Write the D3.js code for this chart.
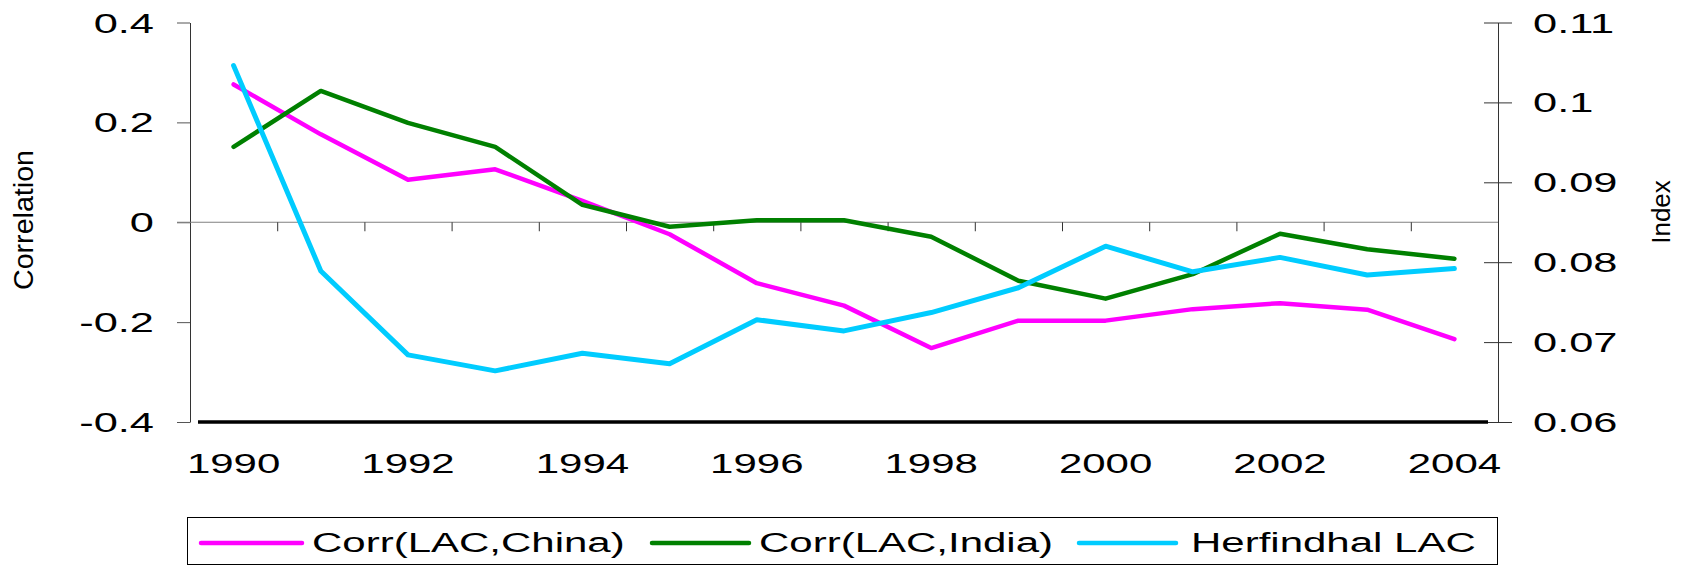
<!DOCTYPE html>
<html>
<head>
<meta charset="utf-8">
<script src="https://cdn.jsdelivr.net/npm/d3@7"></script>
<style>
  body { margin: 0; background: #fff; }
  text { font-family: "Liberation Sans", Arial, sans-serif; fill: #000; }
</style>
</head>
<body>
<div id="chart"></div>
<script>

// data
var years = [1990, 1991, 1992, 1993, 1994, 1995, 1996, 1997, 1998, 1999, 2000, 2001, 2002, 2003, 2004];
var corrChina = [0.276, 0.176, 0.085, 0.106, 0.043, -0.024, -0.122, -0.167, -0.252, -0.197, -0.197, -0.174, -0.162, -0.175, -0.234];
var corrIndia = [0.151, 0.263, 0.199, 0.151, 0.035, -0.009, 0.004, 0.004, -0.029, -0.117, -0.153, -0.104, -0.023, -0.054, -0.073];
var herfLAC = [0.1046, 0.0789, 0.0684, 0.0664, 0.0686, 0.0673, 0.0728, 0.0714, 0.0737, 0.0768, 0.0820, 0.0788, 0.0806, 0.0784, 0.0792];
var leftTicks = [-0.4, -0.2, 0, 0.2, 0.4];
var rightTicks = [0.06, 0.07, 0.08, 0.09, 0.1, 0.11];
var yearLabels = [1990, 1992, 1994, 1996, 1998, 2000, 2002, 2004];
var seriesNames = ["Corr(LAC,China)", "Corr(LAC,India)", "Herfindhal LAC"];
var seriesColors = ["#ff00ff", "#008000", "#00ccff"];

var width = 1681, height = 566;
var plot = {left: 190, right: 1498, top: 22.5, bottom: 422};
var stretch = 1.55; // text in the picture is stretched sideways

var svg = d3.select("#chart")
  .append("svg")
    .attr("width", width)
    .attr("height", height);

// scales
var x = d3.scaleBand()
  .domain(years)
  .range([plot.left, plot.right]);

var xEdge = d3.scaleLinear()
  .domain([1989.5, 2004.5])
  .range([plot.left, plot.right]);

var yLeft = d3.scaleLinear()
  .domain([-0.4, 0.4])
  .range([plot.bottom, plot.top]);

var yRight = d3.scaleLinear()
  .domain([0.06, 0.11])
  .range([plot.bottom, plot.top]);

function cx(d, i) { return x(years[i]) + x.bandwidth() / 2; }

function fmt(v) {
  return String(Math.round(v * 100) / 100);
}

// stretched label helper
function label(g, px, py, str, anchor, sx) {
  g.append("text")
    .attr("transform", "translate(" + px + "," + py + ") scale(" + sx + ",1)")
    .attr("text-anchor", anchor)
    .style("font-size", "28px")
    .text(str);
}

// left axis
var leftAxis = svg.append("g")
  .attr("transform", "translate(" + plot.left + ",0)")
  .call(d3.axisLeft(yLeft).tickValues(leftTicks).tickSize(13).tickSizeOuter(0).tickFormat(""));
leftAxis.select(".domain").attr("stroke", "#333");
leftAxis.selectAll(".tick line").attr("stroke", "#555");

leftTicks.forEach(function(v) {
  label(svg, 154, yLeft(v) + 10, fmt(v), "end", stretch);
});

// right axis, ticks cross the line
var rightAxis = svg.append("g")
  .attr("transform", "translate(" + plot.right + ",0)")
  .call(d3.axisRight(yRight).tickValues(rightTicks).tickSize(14).tickSizeOuter(0).tickFormat(""));
rightAxis.select(".domain").attr("stroke", "#333");
rightAxis.selectAll(".tick line").attr("x1", -14).attr("stroke", "#333");

rightTicks.forEach(function(v) {
  label(svg, 1533, yRight(v) + 10, fmt(v), "start", stretch);
});

// zero line with category ticks
svg.append("line")
  .attr("x1", plot.left - 13)
  .attr("x2", plot.right)
  .attr("y1", yLeft(0))
  .attr("y2", yLeft(0))
  .attr("stroke", "#808080")
  .attr("stroke-width", 1.2);

var edges = d3.range(1990.5, 2004, 1);
var xAxis = svg.append("g")
  .attr("transform", "translate(0," + yLeft(0) + ")")
  .call(d3.axisBottom(xEdge).tickValues(edges).tickSize(9).tickSizeOuter(0).tickFormat(""));
xAxis.select(".domain").remove();
xAxis.selectAll(".tick line").attr("stroke", "#333");

// thick bottom line
svg.append("line")
  .attr("x1", plot.left + 8)
  .attr("x2", plot.right - 10)
  .attr("y1", yLeft(-0.4))
  .attr("y2", yLeft(-0.4))
  .attr("stroke", "#000")
  .attr("stroke-width", 3.5);

// year labels
yearLabels.forEach(function(yr) {
  label(svg, x(yr) + x.bandwidth() / 2, 473, String(yr), "middle", 1.5);
});

// axis titles
svg.append("text")
  .attr("transform", "translate(33,220) rotate(-90)")
  .attr("text-anchor", "middle")
  .attr("textLength", 140)
  .attr("lengthAdjust", "spacingAndGlyphs")
  .style("font-size", "27px")
  .text("Correlation");

svg.append("text")
  .attr("transform", "translate(1670,212) rotate(-90)")
  .attr("text-anchor", "middle")
  .style("font-size", "26px")
  .text("Index");

// lines
var lineLeft = d3.line()
  .x(cx)
  .y(function(d) { return yLeft(d); });

var lineRight = d3.line()
  .x(cx)
  .y(function(d) { return yRight(d); });

svg.append("path")
  .datum(corrChina)
  .attr("d", lineLeft)
  .attr("fill", "none")
  .attr("stroke", seriesColors[0])
  .attr("stroke-width", 4.5)
  .attr("stroke-linecap", "round")
  .attr("stroke-linejoin", "round");

svg.append("path")
  .datum(corrIndia)
  .attr("d", lineLeft)
  .attr("fill", "none")
  .attr("stroke", seriesColors[1])
  .attr("stroke-width", 4.5)
  .attr("stroke-linecap", "round")
  .attr("stroke-linejoin", "round");

svg.append("path")
  .datum(herfLAC)
  .attr("d", lineRight)
  .attr("fill", "none")
  .attr("stroke", seriesColors[2])
  .attr("stroke-width", 5)
  .attr("stroke-linecap", "round")
  .attr("stroke-linejoin", "round");

// legend
svg.append("rect")
  .attr("x", 187.5)
  .attr("y", 517.5)
  .attr("width", 1310)
  .attr("height", 47)
  .attr("fill", "#fff")
  .attr("stroke", "#000")
  .attr("stroke-width", 1);

var legendPos = [
  {x1: 201, x2: 302, tx: 312},
  {x1: 652, x2: 749, tx: 759},
  {x1: 1079, x2: 1176, tx: 1191}
];

seriesNames.forEach(function(name, i) {
  svg.append("line")
    .attr("x1", legendPos[i].x1)
    .attr("x2", legendPos[i].x2)
    .attr("y1", 543)
    .attr("y2", 543)
    .attr("stroke", seriesColors[i])
    .attr("stroke-width", 4.5)
    .attr("stroke-linecap", "round");
  label(svg, legendPos[i].tx, 552, name, "start", 1.5);
});

</script>
</body>
</html>
